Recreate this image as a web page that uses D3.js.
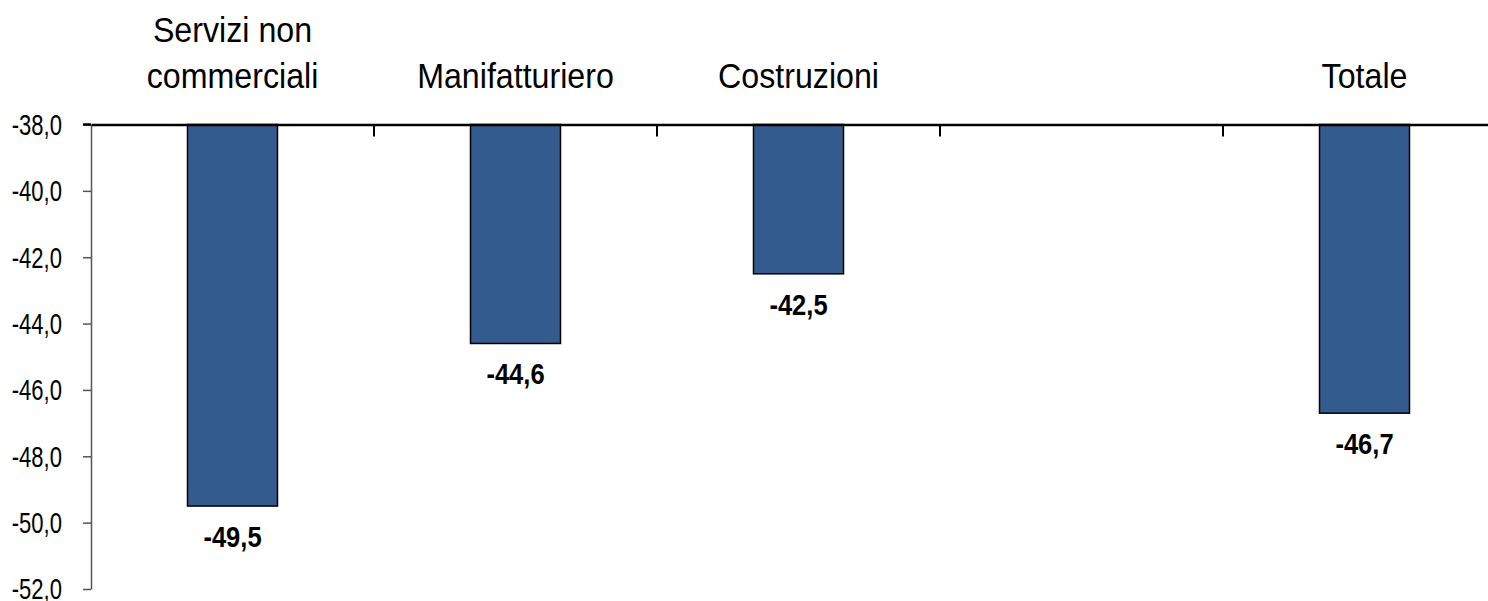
<!DOCTYPE html>
<html>
<head>
<meta charset="utf-8">
<script src="https://cdn.jsdelivr.net/npm/d3@7"></script>
<style>
  html, body { margin: 0; padding: 0; background: #fff; }
  svg { display: block; }
</style>
</head>
<body>
<svg id="chart" width="1488" height="601"></svg>
<script>
// ---- data ----
const categories = ["Servizi non commerciali", "Manifatturiero", "Costruzioni", "", "Totale"];
const categoryLines = [["Servizi non", "commerciali"], ["Manifatturiero"], ["Costruzioni"], [], ["Totale"]];
const values = [-49.5, -44.6, -42.5, null, -46.7];
const valueLabels = ["-49,5", "-44,6", "-42,5", "", "-46,7"];
const yTicks = [-38, -40, -42, -44, -46, -48, -50, -52];
const yTickLabels = ["-38,0", "-40,0", "-42,0", "-44,0", "-46,0", "-48,0", "-50,0", "-52,0"];

// ---- layout ----
const svg = d3.select("#chart");
const axisX = 91;
const xBand = d3.scaleBand().domain(categories).range([axisX, 1506]);
const y = d3.scaleLinear().domain([-38, -52]).range([124.5, 589]);

const rows = categories.map((c, i) => ({c, v: values[i], label: valueLabels[i], lines: categoryLines[i]}));

// bars
svg.append("g").selectAll("rect")
  .data(rows.filter(d => d.v !== null))
  .join("rect")
  .attr("x", d => xBand(d.c) + xBand.bandwidth() / 2 - 45)
  .attr("width", 90)
  .attr("y", y(-38))
  .attr("height", d => y(d.v) - y(-38))
  .attr("fill", "#335b8d")
  .attr("stroke", "#000")
  .attr("stroke-width", 1.5);

// y axis
const yAxis = d3.axisLeft(y).tickValues(yTicks)
  .tickFormat((d, i) => yTickLabels[i]).tickSize(8).tickSizeOuter(0);
const gy = svg.append("g").attr("transform", `translate(${axisX},0)`).call(yAxis);
gy.select(".domain").attr("stroke", "#555").attr("stroke-width", 1.5);
gy.selectAll(".tick line").attr("stroke", "#555").attr("stroke-width", 1.5);
gy.selectAll(".tick text")
  .attr("x", 0).attr("dy", "0.34em")
  .attr("text-anchor", "end")
  .attr("transform", "translate(-29,0) scale(0.76,1)")
  .attr("font-family", "'Liberation Sans', Arial, sans-serif")
  .attr("font-size", 29).attr("fill", "#000");

// x axis at top (value -38)
const xAxis = d3.axisBottom(xBand).tickValues([]).tickSizeOuter(0);
const gx = svg.append("g").attr("transform", `translate(0,${y(-38)})`).call(xAxis);
gx.select(".domain").attr("stroke", "#000").attr("stroke-width", 2.5);
// category boundary ticks
svg.append("g").selectAll("line")
  .data(categories.slice(1))
  .join("line")
  .attr("x1", d => xBand(d)).attr("x2", d => xBand(d))
  .attr("y1", y(-38)).attr("y2", y(-38) + 12)
  .attr("stroke", "#000").attr("stroke-width", 2);
svg.append("line").attr("x1", axisX - 8).attr("x2", axisX).attr("y1", y(-38)).attr("y2", y(-38))
  .attr("stroke", "#000").attr("stroke-width", 2.5);

// category labels
const catG = svg.append("g");
rows.forEach(d => {
  const cx = xBand(d.c) + xBand.bandwidth() / 2;
  const n = d.lines.length;
  d.lines.forEach((line, j) => {
    const base = 88 - (n - 1 - j) * 46;
    catG.append("text")
      .attr("transform", `translate(${cx},${base}) scale(0.92,1)`)
      .attr("text-anchor", "middle")
      .attr("font-family", "'Liberation Sans', Arial, sans-serif")
      .attr("font-size", 35)
      .attr("fill", "#000")
      .text(line);
  });
});

// value labels
svg.append("g").selectAll("text")
  .data(rows.filter(d => d.v !== null))
  .join("text")
  .attr("transform", d => `translate(${xBand(d.c) + xBand.bandwidth() / 2},${y(d.v) + 41}) scale(0.88,1)`)
  .attr("text-anchor", "middle")
  .attr("font-family", "'Liberation Sans', Arial, sans-serif")
  .attr("font-weight", "bold")
  .attr("font-size", 29)
  .attr("fill", "#000")
  .text(d => d.label);
</script>
</body>
</html>
